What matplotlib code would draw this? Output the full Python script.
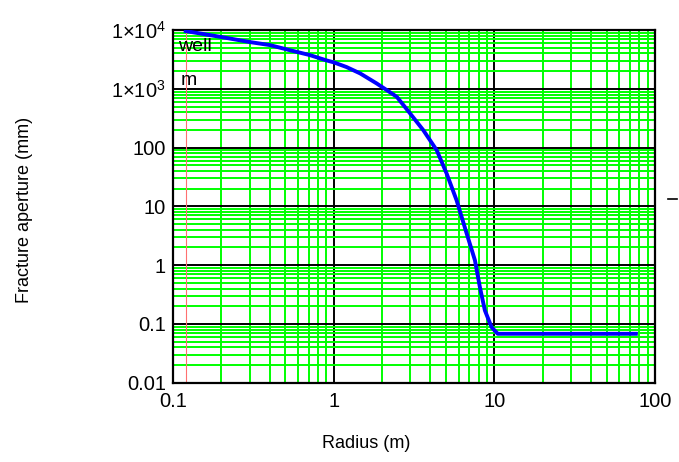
import matplotlib
matplotlib.use("Agg")
from matplotlib import pyplot as plt
from matplotlib.lines import Line2D
from matplotlib.ticker import FixedLocator, FixedFormatter, LogLocator, NullFormatter

plt.rcParams['font.family'] = ['Liberation Sans', 'DejaVu Sans']
plt.rcParams['mathtext.fontset'] = 'custom'
plt.rcParams['mathtext.rm'] = 'Liberation Sans'
plt.rcParams['mathtext.default'] = 'regular'

# curve (radius in m, aperture in mm)
radius = [0.12, 0.2, 0.3, 0.4, 0.53, 0.71, 0.9, 1.0, 1.2, 1.46, 1.85, 2.14,
          2.47, 2.99, 3.61, 4.38, 5.05, 5.82, 6.72, 7.57, 8.13, 8.73, 9.3,
          9.61, 10.5, 76]
aperture = [9600, 7600, 6250, 5550, 4560, 3750, 3050, 2820, 2350, 1830, 1236,
            950, 731, 381, 198, 90, 36, 12.7, 3.48, 1.21, 0.42, 0.17, 0.11,
            0.088, 0.068, 0.068]
r_well = 0.12

x_ticks = [0.1, 1, 10, 100]
x_labels = ['0.1', '1', '10', '100']
y_ticks = [0.01, 0.1, 1, 10, 100, 1e3, 1e4]
y_labels = ['0.01', '0.1', '1', '10', '100', r'1×10$^{3}$', r'1×10$^{4}$']


def main():
    fig = plt.figure(figsize=(6.79, 4.62), dpi=100)
    ax = fig.add_axes([0.2548, 0.1716, 0.7099, 0.7634])
    ax.set_xscale('log')
    ax.set_yscale('log')
    ax.set_xlim(0.1, 100)
    ax.set_ylim(0.01, 1e4)

    ax.xaxis.set_major_locator(FixedLocator(x_ticks))
    ax.xaxis.set_major_formatter(FixedFormatter(x_labels))
    ax.yaxis.set_major_locator(FixedLocator(y_ticks))
    ax.yaxis.set_major_formatter(FixedFormatter(y_labels))
    ax.xaxis.set_minor_locator(LogLocator(base=10, subs=range(2, 10), numticks=20))
    ax.yaxis.set_minor_locator(LogLocator(base=10, subs=range(2, 10), numticks=20))
    ax.xaxis.set_minor_formatter(NullFormatter())
    ax.yaxis.set_minor_formatter(NullFormatter())

    ax.grid(which='minor', color='#00ff00', linewidth=1.4)
    ax.grid(which='major', color='black', linewidth=1.4)
    ax.set_axisbelow(True)
    ax.tick_params(which='both', length=0, labelsize=14.5)
    ax.tick_params(axis='x', pad=7)
    ax.tick_params(axis='y', pad=5)
    for s in ax.spines.values():
        s.set_linewidth(1.6)

    ax.axvline(r_well, color='#ff7070', linewidth=0.8)
    ax.plot(radius, aperture, color='#0000ff', linewidth=2.8, zorder=5,
            solid_joinstyle='round')

    ax.text(0.107, 5300, 'well', fontsize=14, va='center', ha='left')
    ax.text(0.112, 1380, 'm', fontsize=14, va='center', ha='left')

    fig.text(366 / 679, 1 - 444 / 462, 'Radius (m)', fontsize=13,
             ha='center', va='center')
    fig.text(25 / 679, 1 - 210 / 462, 'Fracture aperture (mm)', fontsize=13,
             ha='center', va='center', rotation=90)
    fig.add_artist(Line2D([668 / 679, 677 / 679], [1 - 199 / 462, 1 - 199 / 462],
                          color='black', linewidth=1.2))

    fig.savefig('out.png', dpi=100)


if __name__ == "__main__":
    main()
